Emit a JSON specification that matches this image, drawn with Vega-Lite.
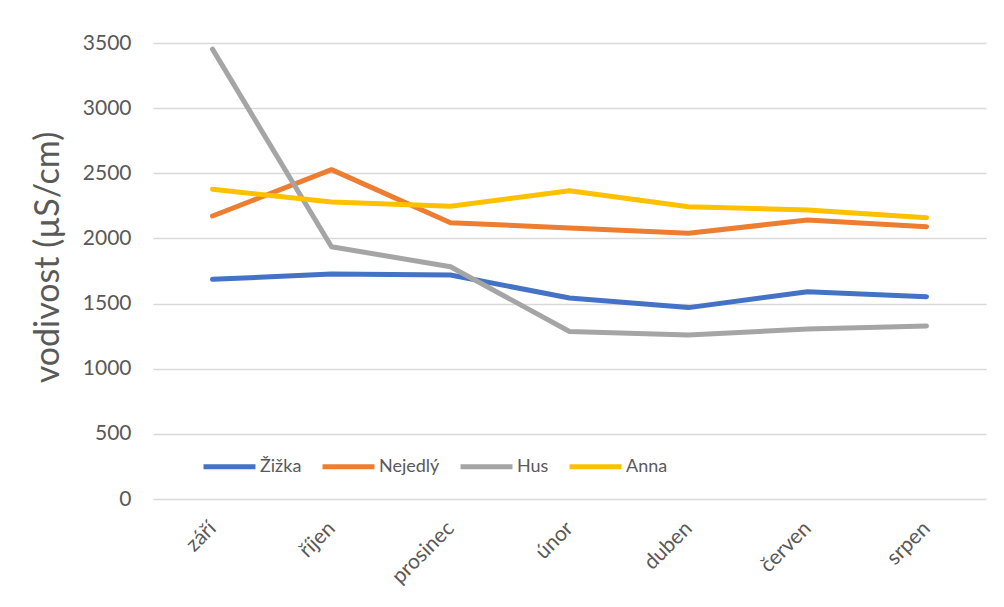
{
  "$schema": "https://vega.github.io/schema/vega-lite/v6.json",
  "width": 833,
  "height": 456,
  "autosize": {"type": "none"},
  "padding": {"left": 153, "top": 43, "right": 18, "bottom": 108},
  "background": "white",
  "config": {
    "font": "Lato",
    "view": {"stroke": null}
  },
  "data": {
    "values": [
      {"mesic": "září", "serie": "Žižka", "v": 1686},
      {"mesic": "říjen", "serie": "Žižka", "v": 1727},
      {"mesic": "prosinec", "serie": "Žižka", "v": 1719},
      {"mesic": "únor", "serie": "Žižka", "v": 1543},
      {"mesic": "duben", "serie": "Žižka", "v": 1469},
      {"mesic": "červen", "serie": "Žižka", "v": 1591},
      {"mesic": "srpen", "serie": "Žižka", "v": 1553},
      {"mesic": "září", "serie": "Nejedlý", "v": 2172},
      {"mesic": "říjen", "serie": "Nejedlý", "v": 2528},
      {"mesic": "prosinec", "serie": "Nejedlý", "v": 2121},
      {"mesic": "únor", "serie": "Nejedlý", "v": 2080},
      {"mesic": "duben", "serie": "Nejedlý", "v": 2040},
      {"mesic": "červen", "serie": "Nejedlý", "v": 2141},
      {"mesic": "srpen", "serie": "Nejedlý", "v": 2090},
      {"mesic": "září", "serie": "Hus", "v": 3453},
      {"mesic": "říjen", "serie": "Hus", "v": 1936},
      {"mesic": "prosinec", "serie": "Hus", "v": 1783},
      {"mesic": "únor", "serie": "Hus", "v": 1286},
      {"mesic": "duben", "serie": "Hus", "v": 1259},
      {"mesic": "červen", "serie": "Hus", "v": 1305},
      {"mesic": "srpen", "serie": "Hus", "v": 1328},
      {"mesic": "září", "serie": "Anna", "v": 2377},
      {"mesic": "říjen", "serie": "Anna", "v": 2280},
      {"mesic": "prosinec", "serie": "Anna", "v": 2247},
      {"mesic": "únor", "serie": "Anna", "v": 2366},
      {"mesic": "duben", "serie": "Anna", "v": 2243},
      {"mesic": "červen", "serie": "Anna", "v": 2218},
      {"mesic": "srpen", "serie": "Anna", "v": 2159}
    ]
  },
  "mark": {"type": "line", "strokeWidth": 5, "strokeCap": "round", "strokeJoin": "round"},
  "encoding": {
    "x": {
      "field": "mesic",
      "type": "nominal",
      "sort": null,
      "scale": {"paddingInner": 0, "paddingOuter": 0.5},
      "axis": {
        "title": null,
        "domain": false,
        "ticks": false,
        "labelAngle": -45,
        "labelAlign": "right",
        "labelBaseline": "middle",
        "labelFontSize": 21,
        "labelColor": "#595959",
        "labelPadding": 26,
        "labelFont": "Lato"
      }
    },
    "y": {
      "field": "v",
      "type": "quantitative",
      "scale": {"domain": [0, 3500], "nice": false},
      "axis": {
        "title": "vodivost (µS/cm)",
        "titleFontSize": 34,
        "titleFontWeight": "normal",
        "titleColor": "#595959",
        "titleFont": "Lato",
        "titleAngle": -90,
        "titleBaseline": "bottom",
        "titleAlign": "center",
        "titleX": -88,
        "titleY": 214,
        "values": [0, 500, 1000, 1500, 2000, 2500, 3000, 3500],
        "format": "d",
        "domain": false,
        "ticks": false,
        "labelFontSize": 21,
        "labelColor": "#595959",
        "labelPadding": 22,
        "labelFont": "Lato",
        "gridColor": "#d9d9d9",
        "gridWidth": 1.5
      }
    },
    "color": {
      "field": "serie",
      "type": "nominal",
      "scale": {
        "domain": ["Žižka", "Nejedlý", "Hus", "Anna"],
        "range": ["#4472C4", "#ED7D31", "#A5A5A5", "#FFC000"]
      },
      "legend": {
        "title": null,
        "orient": "none",
        "direction": "horizontal",
        "legendX": 48,
        "legendY": 395,
        "symbolType": "stroke",
        "symbolStrokeWidth": 5,
        "symbolSize": 2700,
        "labelFontSize": 18,
        "labelColor": "#595959",
        "labelFont": "Lato",
        "labelOffset": 2,
        "columnPadding": 10
      }
    }
  }
}
